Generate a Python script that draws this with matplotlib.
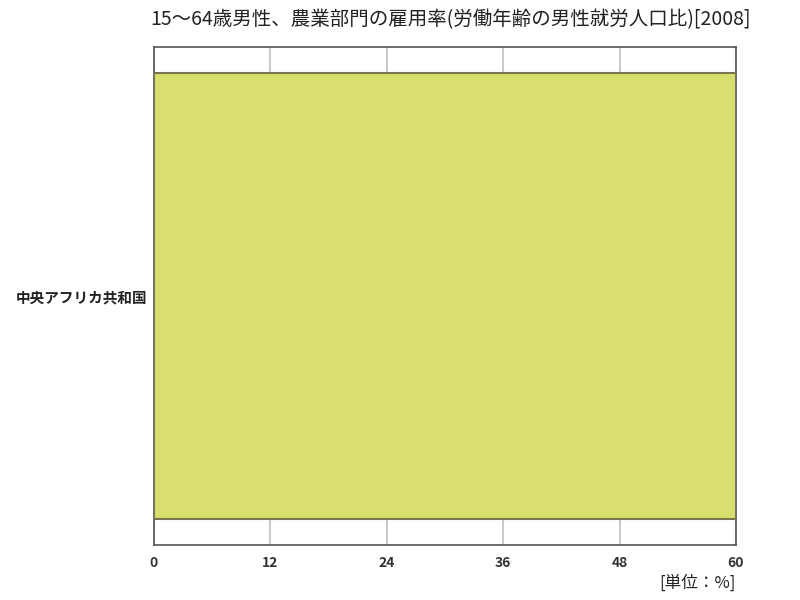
import matplotlib
matplotlib.use('Agg')
import matplotlib.pyplot as plt

# データ
countries = ['中央アフリカ共和国']
values = [60.0]
xticks = [0, 12, 24, 36, 48, 60]
title = '15～64歳男性、農業部門の雇用率(労働年齢の男性就労人口比)[2008]'
unit = '[単位：%]'

plt.rcParams['font.family'] = ['Noto Sans CJK JP', 'DejaVu Sans']

fig = plt.figure(figsize=(8, 6), dpi=100)
ax = fig.add_axes([0.1925, 0.0917, 0.7275, 0.83])

ax.barh(range(len(countries)), values, height=0.896, color='#d8df6e',
        edgecolor='#77774f', linewidth=1.5, zorder=3)
ax.set_xlim(0, 60)
ax.set_ylim(-0.5, len(countries) - 0.5)

ax.set_xticks(xticks)
ax.set_xticklabels([str(t) for t in xticks], fontsize=10, fontweight='bold',
                   color='#333333')
ax.set_yticks(range(len(countries)))
ax.set_yticklabels(countries, fontsize=10.5, fontweight='bold', color='#222222')
ax.tick_params(axis='both', length=0)
ax.tick_params(axis='x', pad=8)
ax.tick_params(axis='y', pad=5)

ax.grid(axis='x', color='#c0c0c0', linewidth=1.2, zorder=0)
for s in ax.spines.values():
    s.set_color('#555555')
    s.set_linewidth(1.2)

fig.text(0.5625, 0.967, title, ha='center', va='center', fontsize=14,
         color='#222222')
fig.text(0.92, 0.028, unit, ha='right', va='center', fontsize=12,
         color='#222222')

fig.savefig('out.png', dpi=100)
